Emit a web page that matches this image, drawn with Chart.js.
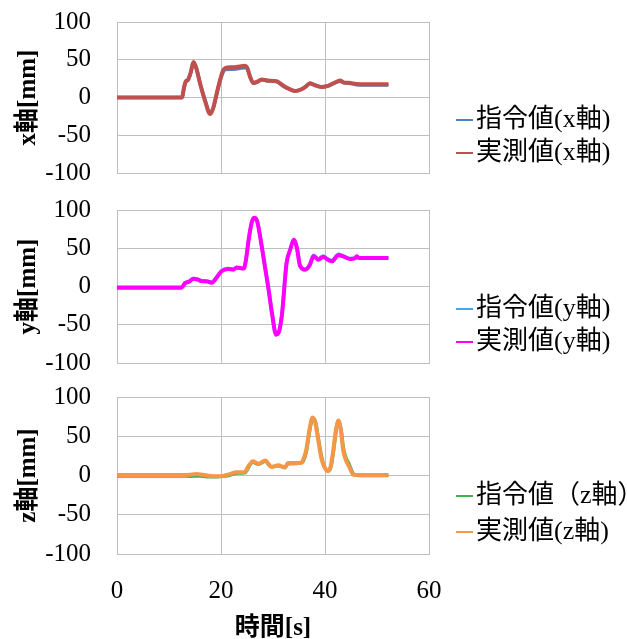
<!DOCTYPE html>
<html>
<head>
<meta charset="utf-8">
<script src="https://cdn.jsdelivr.net/npm/chart.js@4.4.1/dist/chart.umd.min.js"></script>
<style>
body{margin:0;background:#fff;}
#wrap{position:relative;width:627px;height:639px;}
canvas{position:absolute;left:0;}
</style>
</head>
<body>
<div id="wrap">
<canvas id="chart_x" width="627" height="190" style="top:0"></canvas>
<canvas id="chart_y" width="627" height="190" style="top:190px"></canvas>
<canvas id="chart_z" width="627" height="259" style="top:380px"></canvas>
</div>
<script>
// x軸
const xTime = [0, 12.5, 12.9, 13.2, 13.7, 14.2, 14.7, 15.2, 16.0, 17.0, 17.9, 18.5, 19.4, 20.3, 20.8, 22.0, 23.5, 24.6, 25.0, 25.6, 26.2, 27.0, 27.8, 29.0, 30.7, 32.0, 33.2, 34.3, 35.5, 36.3, 37.1, 38.0, 39.3, 40.6, 41.8, 42.9, 43.6, 44.6, 46.0, 48.0, 52.2];
const xCommand = [0, 0, 13, 20, 23.5, 33, 46, 40, 18, -5, -21, -14, 11, 32, 37, 37.5, 38.5, 39.5, 39, 28, 19, 20.5, 23.5, 22, 21, 15, 11, 8.5, 11, 14.5, 18.5, 16.5, 14, 15.5, 19, 21.5, 19.5, 19, 17, 16.5, 16.5];
const xMeasured = [0, 0, 14, 21, 24, 34, 47, 40, 18, -6, -22, -14, 12, 34, 39, 40, 41, 42, 40, 27, 19.5, 21, 24, 22.5, 21.5, 15.5, 11, 8.5, 11, 14.5, 19, 16.5, 14, 15.5, 19.5, 22.5, 20, 19.5, 18, 17.5, 17.5];

// y軸
const yTime = [0, 12.4, 13.1, 13.8, 14.7, 15.5, 16.3, 17.4, 18.2, 19.2, 20.1, 21.4, 22.4, 23.0, 24.4, 24.8, 25.4, 26.0, 26.5, 27.0, 27.6, 28.4, 29.1, 29.8, 30.6, 31.1, 31.7, 32.6, 33.3, 34.0, 34.6, 35.2, 36.2, 37.1, 37.8, 38.7, 39.7, 40.3, 41.3, 42.6, 43.5, 44.8, 45.8, 46.1, 46.5, 48.0, 52.2];
const yCommand = [-1, -1, 5, 6.5, 10.5, 9.5, 7.5, 7, 5.5, 12.5, 20.5, 23.5, 22.5, 25, 23.5, 35, 64, 86, 90, 85, 63, 29, -1, -34, -62, -60, -38, 30, 48, 61, 51, 28, 22.5, 29, 41, 36, 40, 37, 34, 42, 40, 36.5, 37, 38, 37.5, 37.5, 37.5];
const yMeasured = [-1.7, -1.5, 4.5, 6, 10, 9, 7, 6.5, 5, 12, 20, 23, 22, 25, 23.5, 35, 65, 86, 90, 84, 62, 28, -2, -35, -63, -60, -38, 30, 48, 61, 50, 27, 22, 28.5, 40, 35, 39, 36, 33, 41, 39.5, 36, 37, 39.5, 37.4, 37.4, 37.4];

// z軸
const zTime = [0, 8, 12.7, 14.0, 15.3, 16.5, 17.9, 19.5, 20.4, 21.5, 23.0, 24.6, 25.1, 25.5, 26.1, 27.2, 28.5, 29.7, 31.0, 32.3, 32.9, 35.2, 35.8, 36.4, 37.0, 37.6, 38.1, 38.7, 39.3, 39.8, 40.6, 41.1, 41.6, 42.1, 42.6, 43.1, 43.5, 44.0, 44.6, 45.5, 46.5, 52.2];
const zCommand = [-0.5, -0.5, -0.5, -1, -0.5, -1, -1.5, -1.5, -1, 0, 3, 3.5, 8, 13, 17, 14.5, 18, 11, 12.5, 10, 15, 15.5, 18, 30, 55, 72, 70, 48, 25, 13, 6, 10, 30, 55, 69, 58, 36, 23, 15, 2, 0, 0];
const zMeasured = [0.5, 0.5, 0.5, 1, 2, 1, -0.5, -1, -0.5, 1.5, 4, 4.5, 10, 14, 18, 15, 19, 11, 13, 10.5, 16, 16, 20, 33, 58, 74, 68, 45, 22, 12, 5.5, 12, 32, 58, 70, 55, 32, 20, 12, 1, 0.5, 0.5];

const yTicks = [-100, -50, 0, 50, 100];
const xTicks = [0, 20, 40, 60];

const serif = "'Liberation Serif', 'Noto Sans CJK JP', serif";
const gridColor = '#bfbfbf';

function toPoints(t, v) {
  return t.map((x, i) => ({x: x, y: v[i]}));
}

// 右側の凡例
const sideLegend = {
  id: 'sideLegend',
  afterDraw(chart, args, opts) {
    const ctx = chart.ctx;
    ctx.save();
    ctx.font = "26px " + serif;
    ctx.textBaseline = 'middle';
    chart.data.datasets.forEach((ds, i) => {
      const y = opts.rows[i];
      ctx.strokeStyle = ds.borderColor;
      ctx.lineWidth = 2;
      ctx.beginPath();
      ctx.moveTo(456, y);
      ctx.lineTo(473, y);
      ctx.stroke();
      ctx.fillStyle = '#000';
      ctx.fillText(ds.label, 476, y);
    });
    ctx.restore();
  }
};

function makeChart(id, t, cmd, meas, labels, colors, yTitle, opt) {
  const ctx = document.getElementById(id);
  return new Chart(ctx, {
    type: 'scatter',
    data: {
      datasets: [{
        label: labels[0],
        data: toPoints(t, cmd),
        borderColor: colors[0],
        borderWidth: 3.5,
        order: 2
      }, {
        label: labels[1],
        data: toPoints(t, meas),
        borderColor: colors[1],
        borderWidth: 4,
        order: 1
      }]
    },
    options: {
      responsive: false,
      animation: false,
      showLine: true,
      elements: {
        point: {radius: 0},
        line: {cubicInterpolationMode: 'monotone'}
      },
      layout: {padding: {top: opt.padTop, right: 198, left: 0, bottom: 0}},
      plugins: {
        legend: {display: false},
        tooltip: {enabled: false},
        sideLegend: {rows: opt.rows}
      },
      scales: {
        x: {
          type: 'linear',
          min: 0,
          max: 60,
          afterBuildTicks: s => { s.ticks = xTicks.map(v => ({value: v})); },
          afterFit: s => { s.height = opt.xHeight; s.paddingLeft = 0; s.paddingRight = 0; },
          ticks: {display: opt.showX, color: '#000', padding: 22, font: {family: serif, size: 25}},
          grid: {color: gridColor, drawTicks: false},
          border: {color: gridColor},
          title: {display: opt.showX, text: '時間[s]', color: '#000', padding: 0,
                  font: {family: serif, size: 25, weight: 'bold', lineHeight: 0.8}}
        },
        y: {
          min: -100,
          max: 100,
          afterBuildTicks: s => { s.ticks = yTicks.map(v => ({value: v})); },
          afterFit: s => { s.width = 117; s.paddingTop = 15; s.paddingBottom = 15; },
          ticks: {color: '#000', padding: 26, font: {family: serif, size: 25}},
          grid: {color: gridColor, drawTicks: false},
          border: {color: gridColor},
          title: {display: true, text: yTitle, color: '#000', padding: {top: 14},
                  font: {family: serif, size: 25, weight: 'bold'}}
        }
      }
    },
    plugins: [sideLegend]
  });
}

makeChart('chart_x', xTime, xCommand, xMeasured, ['指令値(x軸)', '実測値(x軸)'],
  ['#4f81bd', '#c0504d'], 'x軸[mm]', {padTop: 22, xHeight: 17, showX: false, rows: [120, 153]});
makeChart('chart_y', yTime, yCommand, yMeasured, ['指令値(y軸)', '実測値(y軸)'],
  ['#3fa9f5', '#ff00ff'], 'y軸[mm]', {padTop: 20, xHeight: 17, showX: false, rows: [119, 152]});
makeChart('chart_z', zTime, zCommand, zMeasured, ['指令値（z軸）', '実測値(z軸)'],
  ['#3cb454', '#f79646'], 'z軸[mm]', {padTop: 17, xHeight: 85, showX: true, rows: [116, 152]});
</script>
</body>
</html>
